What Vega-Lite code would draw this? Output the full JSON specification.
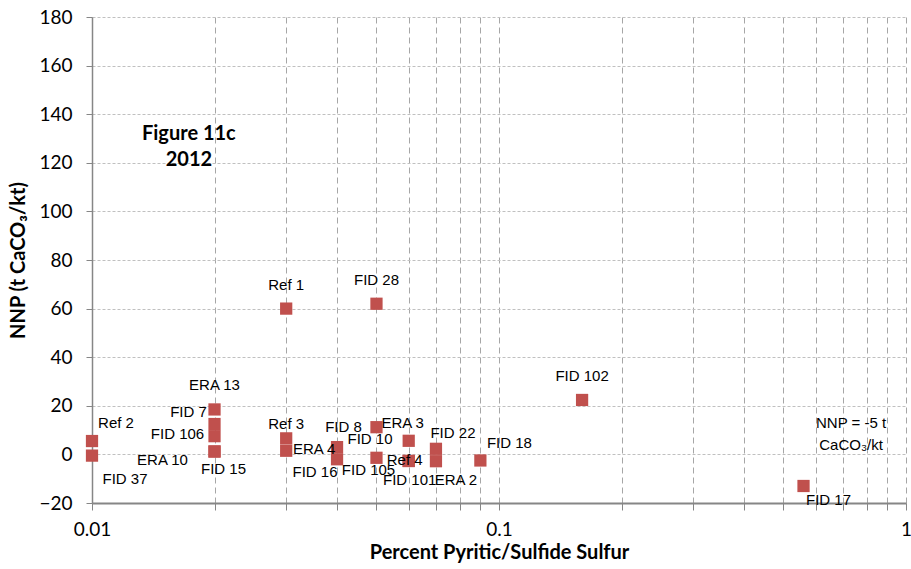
{
  "$schema": "https://vega.github.io/schema/vega-lite/v6.json",
  "width": 814,
  "height": 486,
  "autosize": {"type": "none"},
  "padding": {"left": 92, "top": 17, "right": 5, "bottom": 66},
  "background": "white",
  "config": {
    "view": {"stroke": null},
    "text": {"font": "Liberation Sans", "fontSize": 15, "color": "#000000", "align": "center", "baseline": "middle"}
  },
  "datasets": {
    "pts": [
      {"site": "Ref 2", "s": 0.01, "nnp": 5.5},
      {"site": "FID 37", "s": 0.01, "nnp": -0.5},
      {"site": "ERA 13", "s": 0.02, "nnp": 18.5},
      {"site": "FID 7", "s": 0.02, "nnp": 12.5},
      {"site": "FID 106", "s": 0.02, "nnp": 7.5},
      {"site": "FID 15", "s": 0.02, "nnp": 1.2},
      {"site": "ERA 10", "s": 0.02, "nnp": 1.2},
      {"site": "Ref 1", "s": 0.03, "nnp": 60},
      {"site": "Ref 3", "s": 0.03, "nnp": 6.6},
      {"site": "ERA 4", "s": 0.03, "nnp": 1.5},
      {"site": "FID 10", "s": 0.04, "nnp": 3.0},
      {"site": "FID 16", "s": 0.04, "nnp": -2.0},
      {"site": "FID 28", "s": 0.05, "nnp": 62},
      {"site": "FID 8", "s": 0.05, "nnp": 11.2},
      {"site": "FID 105", "s": 0.05, "nnp": -1.4},
      {"site": "ERA 3", "s": 0.06, "nnp": 5.6},
      {"site": "Ref 4", "s": 0.06, "nnp": -2.7},
      {"site": "FID 101", "s": 0.06, "nnp": -2.7},
      {"site": "FID 22", "s": 0.07, "nnp": 2.3},
      {"site": "ERA 2", "s": 0.07, "nnp": -2.8},
      {"site": "FID 18", "s": 0.09, "nnp": -2.5},
      {"site": "FID 102", "s": 0.16, "nnp": 22.4},
      {"site": "FID 17", "s": 0.56, "nnp": -13}
    ]
  },
  "layer": [
    {
      "mark": {"type": "rule", "color": "#000000", "strokeWidth": 2},
      "encoding": {"y": {"datum": -5, "type": "quantitative"}}
    },
    {
      "data": {"name": "pts"},
      "mark": {"type": "square", "size": 150, "color": "#C0504D", "opacity": 1},
      "encoding": {
        "x": {
          "field": "s", "type": "quantitative",
          "scale": {"type": "log", "domain": [0.01, 1], "nice": false},
          "axis": {
            "title": "Percent Pyritic/Sulfide Sulfur",
            "values": [0.01, 0.02, 0.03, 0.04, 0.05, 0.06, 0.07, 0.08, 0.09, 0.1, 0.2, 0.3, 0.4, 0.5, 0.6, 0.7, 0.8, 0.9, 1],
            "labelExpr": "datum.value == 0.01 ? '0.01' : (datum.value == 0.1 ? '0.1' : (datum.value == 1 ? '1' : ''))",
            "labelOverlap": false,
            "labelFlush": false,
            "grid": true,
            "gridDash": [6, 4],
            "gridColor": "#A6A6A6",
            "gridWidth": 1,
            "domainColor": "#868686",
            "domainWidth": 2,
            "tickColor": "#868686",
            "tickSize": 7,
            "tickWidth": 1,
            "labelFont": "Lato",
            "labelFontSize": 19,
            "labelColor": "#000000",
            "labelPadding": 10,
            "titleFont": "Lato",
            "titleFontSize": 20,
            "titleFontWeight": "bold",
            "titleColor": "#000000",
            "titlePadding": 3
          }
        },
        "y": {
          "field": "nnp", "type": "quantitative",
          "scale": {"domain": [-20, 180], "nice": false, "zero": false},
          "axis": {
            "title": "NNP (t CaCO₃/kt)",
            "values": [-20, -10, 0, 10, 20, 30, 40, 50, 60, 70, 80, 90, 100, 110, 120, 130, 140, 150, 160, 170, 180],
            "labelExpr": "datum.value % 20 === 0 ? datum.label : ''",
            "labelOverlap": false,
            "labelFlush": false,
            "grid": true,
            "gridOpacity": {"condition": {"test": "datum.value % 20 !== 0", "value": 0}, "value": 1},
            "gridDash": [3, 2],
            "gridColor": "#C0C0C0",
            "gridWidth": 1,
            "domainColor": "#868686",
            "domainWidth": 1.5,
            "tickColor": "#868686",
            "tickSize": 6,
            "labelFont": "Lato",
            "labelFontSize": 19,
            "labelColor": "#000000",
            "labelPadding": 14,
            "titleFont": "Lato",
            "titleFontSize": 20,
            "titleFontWeight": "bold",
            "titleColor": "#000000",
            "titlePadding": 10
          }
        }
      }
    },
    {
      "data": {"name": "pts"},
      "encoding": {
        "x": {"field": "s", "type": "quantitative"},
        "y": {"field": "nnp", "type": "quantitative"},
        "text": {"field": "site"}
      },
      "layer": [
        {"transform": [{"filter": "indexof(['ERA 13','Ref 1','FID 28','FID 102'], datum.site) >= 0"}], "mark": {"type": "text", "dy": -24}},
        {"transform": [{"filter": "datum.site === 'Ref 2'"}], "mark": {"type": "text", "dx": 24, "dy": -18}},
        {"transform": [{"filter": "datum.site === 'FID 37'"}], "mark": {"type": "text", "dx": 33, "dy": 23}},
        {"transform": [{"filter": "datum.site === 'FID 7'"}], "mark": {"type": "text", "dx": -26, "dy": -12}},
        {"transform": [{"filter": "datum.site === 'FID 106'"}], "mark": {"type": "text", "dx": -37, "dy": -2}},
        {"transform": [{"filter": "datum.site === 'FID 15'"}], "mark": {"type": "text", "dx": 9, "dy": 18}},
        {"transform": [{"filter": "datum.site === 'ERA 10'"}], "mark": {"type": "text", "dx": -52, "dy": 9}},
        {"transform": [{"filter": "datum.site === 'Ref 3'"}], "mark": {"type": "text", "dx": 0, "dy": -14}},
        {"transform": [{"filter": "datum.site === 'ERA 4'"}], "mark": {"type": "text", "dx": 28, "dy": -2}},
        {"transform": [{"filter": "datum.site === 'FID 10'"}], "mark": {"type": "text", "dx": 33, "dy": -8}},
        {"transform": [{"filter": "datum.site === 'FID 16'"}], "mark": {"type": "text", "dx": -22, "dy": 13}},
        {"transform": [{"filter": "datum.site === 'FID 8'"}], "mark": {"type": "text", "dx": -33, "dy": 0}},
        {"transform": [{"filter": "datum.site === 'FID 105'"}], "mark": {"type": "text", "dx": -8, "dy": 12}},
        {"transform": [{"filter": "datum.site === 'ERA 3'"}], "mark": {"type": "text", "dx": -6, "dy": -18}},
        {"transform": [{"filter": "datum.site === 'Ref 4'"}], "mark": {"type": "text", "dx": -4, "dy": -1}},
        {"transform": [{"filter": "datum.site === 'FID 101'"}], "mark": {"type": "text", "dx": 1, "dy": 19}},
        {"transform": [{"filter": "datum.site === 'FID 22'"}], "mark": {"type": "text", "dx": 17, "dy": -16}},
        {"transform": [{"filter": "datum.site === 'ERA 2'"}], "mark": {"type": "text", "dx": 20, "dy": 19}},
        {"transform": [{"filter": "datum.site === 'FID 18'"}], "mark": {"type": "text", "dx": 29, "dy": -17}},
        {"transform": [{"filter": "datum.site === 'FID 17'"}], "mark": {"type": "text", "dx": 25, "dy": 14}}
      ]
    },
    {
      "data": {"values": [
        {"note": "Figure 11c", "s": 0.0173, "nnp": 132},
        {"note": "2012", "s": 0.0173, "nnp": 121.3}
      ]},
      "mark": {"type": "text", "font": "Lato", "fontSize": 20, "fontWeight": "bold"},
      "encoding": {
        "x": {"field": "s", "type": "quantitative"},
        "y": {"field": "nnp", "type": "quantitative"},
        "text": {"field": "note"}
      }
    },
    {
      "data": {"values": [
        {"note": "NNP = -5 t", "s": 0.733, "nnp": 12.9},
        {"note": "CaCO₃/kt", "s": 0.733, "nnp": 3.9}
      ]},
      "mark": {"type": "text"},
      "encoding": {
        "x": {"field": "s", "type": "quantitative"},
        "y": {"field": "nnp", "type": "quantitative"},
        "text": {"field": "note"}
      }
    }
  ]
}
